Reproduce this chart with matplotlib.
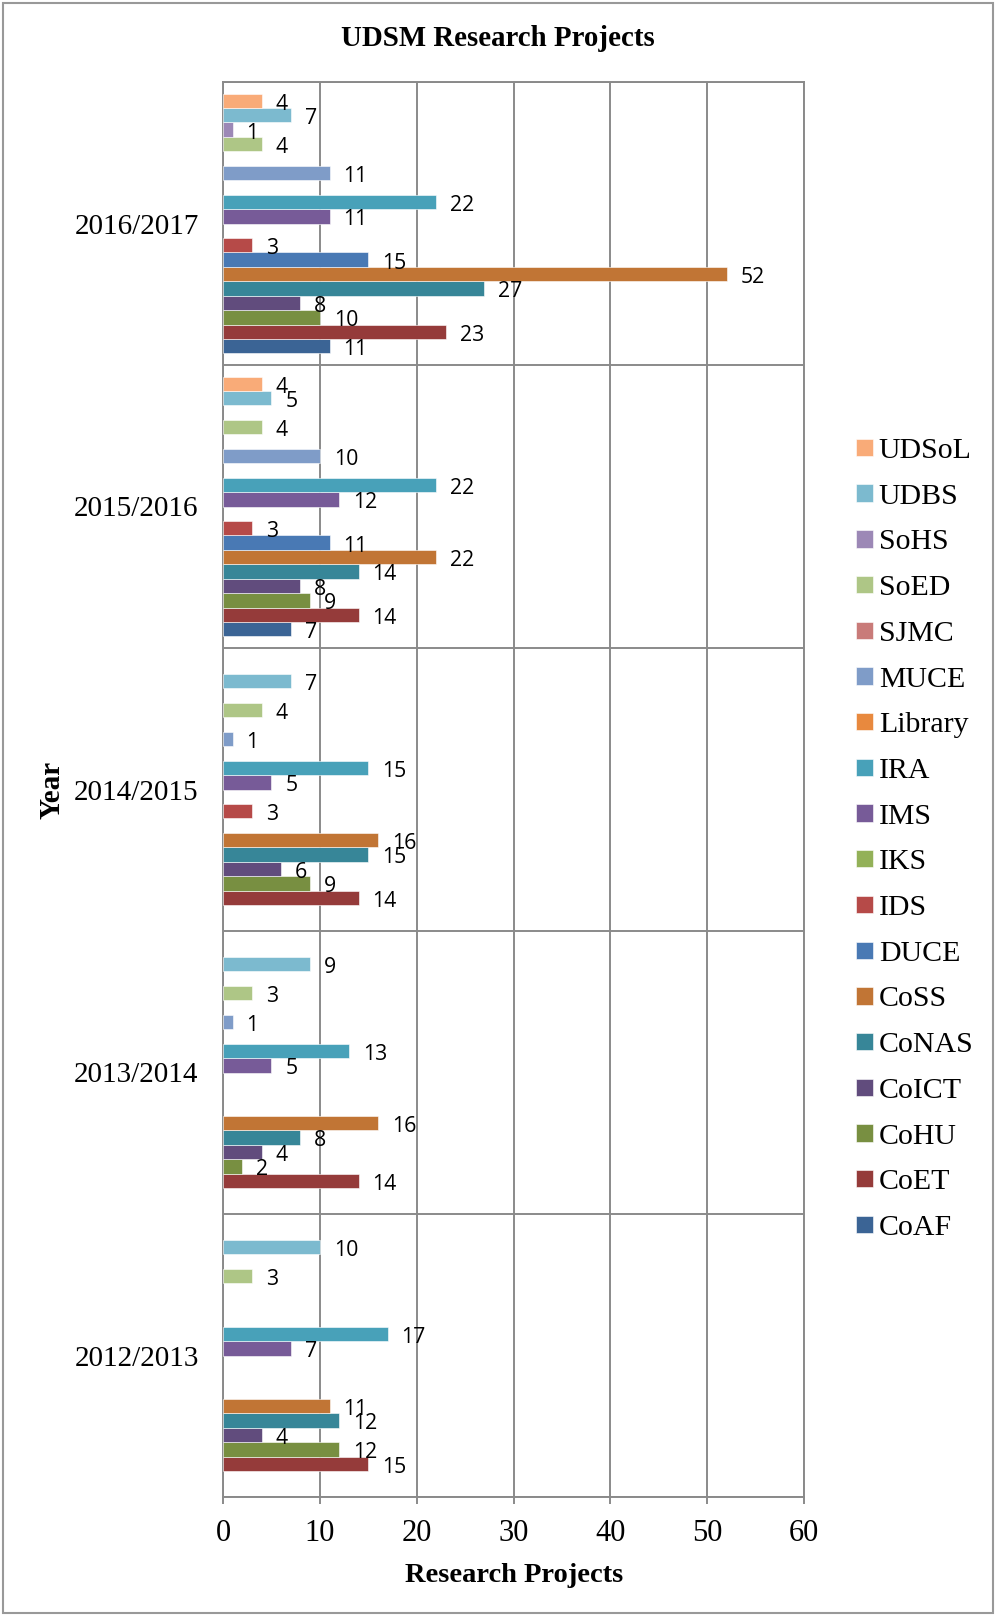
import numpy as np
import matplotlib.pyplot as plt
from matplotlib.patches import Rectangle

nan = np.nan

# categorias (de abajo hacia arriba)
years = ['2012/2013', '2013/2014', '2014/2015', '2015/2016', '2016/2017']

# series en el orden de Excel (CoAF primero = barra inferior de cada grupo)
CoAF    = [nan, nan, nan, 7, 11]
CoET    = [15, 14, 14, 14, 23]
CoHU    = [12, 2, 9, 9, 10]
CoICT   = [4, 4, 6, 8, 8]
CoNAS   = [12, 8, 15, 14, 27]
CoSS    = [11, 16, 16, 22, 52]
DUCE    = [nan, nan, nan, 11, 15]
IDS     = [nan, nan, 3, 3, 3]
IKS     = [nan, nan, nan, nan, nan]
IMS     = [7, 5, 5, 12, 11]
IRA     = [17, 13, 15, 22, 22]
Library = [nan, nan, nan, nan, nan]
MUCE    = [nan, 1, 1, 10, 11]
SJMC    = [nan, nan, nan, nan, nan]
SoED    = [3, 3, 4, 4, 4]
SoHS    = [nan, nan, nan, nan, 1]
UDBS    = [10, 9, 7, 5, 7]
UDSoL   = [nan, nan, nan, 4, 4]

names = ['CoAF', 'CoET', 'CoHU', 'CoICT', 'CoNAS', 'CoSS', 'DUCE', 'IDS', 'IKS',
         'IMS', 'IRA', 'Library', 'MUCE', 'SJMC', 'SoED', 'SoHS', 'UDBS', 'UDSoL']
series = [CoAF, CoET, CoHU, CoICT, CoNAS, CoSS, DUCE, IDS, IKS,
          IMS, IRA, Library, MUCE, SJMC, SoED, SoHS, UDBS, UDSoL]
colors = ['#3B6495', '#953B3A', '#788F41', '#614C7D', '#378698', '#C17535',
          '#4979B4', '#B64A48', '#93B158', '#775B98', '#48A1B9', '#E8893E',
          '#7F9CC8', '#C97B79', '#AEC686', '#9C88B6', '#7CBACF', '#F9AB78']

fig = plt.figure(figsize=(9.96, 16.16), dpi=100)
ax = fig.add_axes([223/996, 1 - 1497/1616, 581/996, 1415/1616])

n = len(series)
h = 1.0 / (n + 1.6)
gap = 1.0 - n * h
y0 = np.arange(len(years))
grey = '#8A8A8A'

bars = []
for j, (vals, c, name) in enumerate(zip(series, colors, names)):
    pos = y0 - 0.5 + gap / 2 + (j + 0.5) * h
    b = ax.barh(pos, vals, height=h, color=c, edgecolor='white', linewidth=0.4,
                label=name, zorder=3)
    bars.append(b)
    for p, v in zip(pos, vals):
        if not np.isnan(v):
            ax.annotate(f'{v:g}', (v, p), xytext=(10, -2.5), textcoords='offset points',
                        ha='left', va='center', fontsize=15.3, family='Open Sans',
                        zorder=4)

ax.set_xlim(0, 60)
ax.set_ylim(-0.5, len(years) - 0.5)
ax.set_xticks(np.arange(0, 61, 10))
ax.set_yticks(y0)
ax.set_yticklabels(years)
ax.set_yticks(np.arange(-0.5, len(years), 1), minor=True)
ax.tick_params(axis='y', which='major', length=0, pad=17.5)
ax.tick_params(axis='y', which='minor', length=0)
ax.tick_params(axis='x', length=5, width=1.4, color=grey, pad=11)
for lab in ax.get_xticklabels():
    lab.set_family('Liberation Serif')
    lab.set_fontsize(22)
for lab in ax.get_yticklabels():
    lab.set_family('Liberation Serif')
    lab.set_fontsize(21)

ax.grid(axis='x', color=grey, linewidth=1.4, zorder=0)
ax.grid(axis='y', which='minor', color=grey, linewidth=1.4, zorder=0)
for s in ax.spines.values():
    s.set_color(grey)
    s.set_linewidth(1.4)

fig.text(0.5, 1 - 39/1616, 'UDSM Research Projects', ha='center', va='center',
         family='Liberation Serif', fontweight='bold', fontsize=20.8)
fig.text(514/996, 1 - 1575/1616, 'Research Projects', ha='center', va='center',
         family='Liberation Serif', fontweight='bold', fontsize=20.5)
fig.text(52/996, 1 - 790/1616, 'Year', ha='center', va='center', rotation=90,
         family='Liberation Serif', fontweight='bold', fontsize=21)

leg = fig.legend(handles=bars[::-1], loc='upper left', bbox_to_anchor=(856/996, 1 - 438/1616),
                 frameon=False, prop={'family': 'Liberation Serif', 'size': 21.5},
                 handlelength=0.56, handleheight=0.52, handletextpad=0.2,
                 labelspacing=0.66, borderaxespad=0, borderpad=0)

fig.patches.append(Rectangle((3/996, 3/1616), 990/996, 1610/1616, transform=fig.transFigure,
                             fill=False, edgecolor='#999999', linewidth=1.5))

fig.savefig('out.png', dpi=100)
